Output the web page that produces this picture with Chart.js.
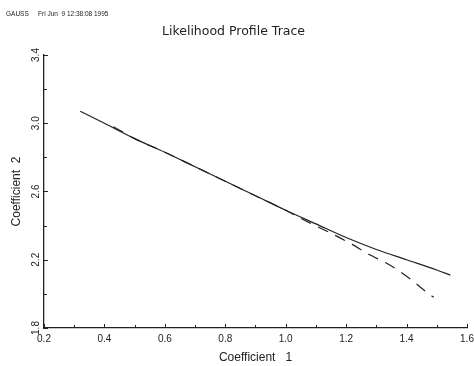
<!DOCTYPE html>
<html lang="en">
<head>
    <meta charset="UTF-8">
    <title>Likelihood Profile Trace</title>
    <script src="https://cdn.jsdelivr.net/npm/chart.js"></script>
    <style>
        body {
            margin: 0;
            padding: 0;
            background-color: #ffffff;
        }

        .chart-container {
            position: relative;
            width: 474px;
            height: 366px;
        }
    </style>
</head>
<body>
    <div class="chart-container">
        <canvas id="traceChart"></canvas>
    </div>

    <script>
        // Data
        const solidX = [0.32, 0.40, 0.50, 0.60, 0.70, 0.80, 0.90, 1.00, 1.10, 1.20, 1.30, 1.40, 1.50, 1.545];
        const solidY = [3.07, 3.00, 2.91, 2.83, 2.745, 2.66, 2.575, 2.49, 2.41, 2.33, 2.26, 2.20, 2.14, 2.11];
        const dashX = [0.43, 0.50, 0.60, 0.70, 0.80, 0.90, 1.00, 1.08, 1.15, 1.22, 1.27, 1.35, 1.41, 1.47, 1.49];
        const dashY = [2.98, 2.91, 2.83, 2.745, 2.66, 2.575, 2.49, 2.415, 2.355, 2.29, 2.237, 2.163, 2.09, 2.005, 1.98];

        const xTickLabels = [0.2, 0.4, 0.6, 0.8, 1.0, 1.2, 1.4, 1.6];
        const yTickLabels = [1.8, 2.2, 2.6, 3.0, 3.4];

        const titleText = 'Likelihood Profile Trace';
        const headerLeft = 'GAUSS';
        const headerRight = 'Fri Jun  9 12:38:08 1995';

        const ink = '#222222';

        function midpoints(arr) {
            const out = [];
            for (let i = 0; i < arr.length; i++) {
                out.push(arr[i]);
                if (i < arr.length - 1) out.push((arr[i] + arr[i + 1]) / 2);
            }
            return out;
        }

        // inward tick marks, rotated y labels and the stamp line
        const gaussPlugin = {
            id: 'gaussDecor',
            afterDraw(chart) {
                const ctx = chart.ctx;
                const xs = chart.scales.x;
                const ys = chart.scales.y;
                const area = chart.chartArea;
                ctx.save();
                ctx.strokeStyle = ink;
                ctx.lineWidth = 1;

                midpoints(xTickLabels).forEach((v, i) => {
                    const px = Math.round(xs.getPixelForValue(v)) + 0.5;
                    const len = i % 2 === 0 ? 4 : 3;
                    ctx.beginPath();
                    ctx.moveTo(px, area.bottom);
                    ctx.lineTo(px, area.bottom - len);
                    ctx.stroke();
                });

                midpoints(yTickLabels).forEach((v, i) => {
                    const py = Math.round(ys.getPixelForValue(v)) + 0.5;
                    const len = i % 2 === 0 ? 4 : 3;
                    ctx.beginPath();
                    ctx.moveTo(area.left, py);
                    ctx.lineTo(area.left + len, py);
                    ctx.stroke();
                });

                ctx.fillStyle = ink;
                ctx.font = '10px "Liberation Sans", Arial, sans-serif';
                ctx.textAlign = 'center';
                ctx.textBaseline = 'middle';
                yTickLabels.forEach(v => {
                    const py = ys.getPixelForValue(v);
                    ctx.save();
                    ctx.translate(area.left - 8, py);
                    ctx.rotate(-Math.PI / 2);
                    ctx.fillText(v.toFixed(1), 0, 0);
                    ctx.restore();
                });

                ctx.font = '6.5px "Liberation Sans", Arial, sans-serif';
                ctx.textAlign = 'left';
                ctx.fillText(headerLeft, 6, 14);
                ctx.fillText(headerRight, 38, 14);
                ctx.restore();
            }
        };

        const ctx = document.getElementById('traceChart').getContext('2d');
        const traceChart = new Chart(ctx, {
            type: 'line',
            data: {
                datasets: [{
                    label: 'solid',
                    data: solidX.map((x, i) => ({ x: x, y: solidY[i] })),
                    borderColor: ink,
                    borderWidth: 1.2,
                    pointRadius: 0,
                    fill: false,
                    cubicInterpolationMode: 'monotone'
                }, {
                    label: 'dashed',
                    data: dashX.map((x, i) => ({ x: x, y: dashY[i] })),
                    borderColor: ink,
                    borderWidth: 1.2,
                    borderDash: [11, 8],
                    pointRadius: 0,
                    fill: false,
                    cubicInterpolationMode: 'monotone'
                }]
            },
            options: {
                responsive: true,
                maintainAspectRatio: false,
                animation: false,
                layout: {
                    padding: { left: 0, right: 7, top: 0, bottom: 0 }
                },
                plugins: {
                    legend: { display: false },
                    tooltip: { enabled: false },
                    title: {
                        display: true,
                        text: titleText,
                        color: ink,
                        font: { family: '"DejaVu Sans", sans-serif', size: 12.5, weight: 'normal' },
                        padding: { top: 24, bottom: 16 }
                    }
                },
                scales: {
                    x: {
                        type: 'linear',
                        min: 0.2,
                        max: 1.6,
                        afterBuildTicks: s => { s.ticks = xTickLabels.map(v => ({ value: v })); },
                        afterFit: s => { s.height = 38; s.paddingLeft = 0; s.paddingRight = 0; },
                        grid: { display: false, drawTicks: false },
                        border: { display: true, color: ink, width: 1.3 },
                        ticks: {
                            color: ink,
                            padding: 5,
                            maxRotation: 0,
                            autoSkip: false,
                            font: { family: '"Liberation Sans", Arial, sans-serif', size: 10 },
                            callback: v => Number(v).toFixed(1)
                        },
                        title: {
                            display: true,
                            text: 'Coefficient   1',
                            color: ink,
                            font: { family: '"Liberation Sans", Arial, sans-serif', size: 12 },
                            padding: { top: 0, bottom: 1 }
                        }
                    },
                    y: {
                        type: 'linear',
                        min: 1.8,
                        max: 3.4,
                        afterBuildTicks: s => { s.ticks = yTickLabels.map(v => ({ value: v })); },
                        afterFit: s => { s.width = 44; s.paddingTop = 0; s.paddingBottom = 0; },
                        grid: { display: false, drawTicks: false },
                        border: { display: true, color: ink, width: 1.3 },
                        ticks: { display: false },
                        title: {
                            display: true,
                            text: 'Coefficient  2',
                            color: ink,
                            font: { family: '"Liberation Sans", Arial, sans-serif', size: 12 },
                            padding: { top: 9, bottom: 0 }
                        }
                    }
                }
            },
            plugins: [gaussPlugin]
        });
    </script>
</body>
</html>
